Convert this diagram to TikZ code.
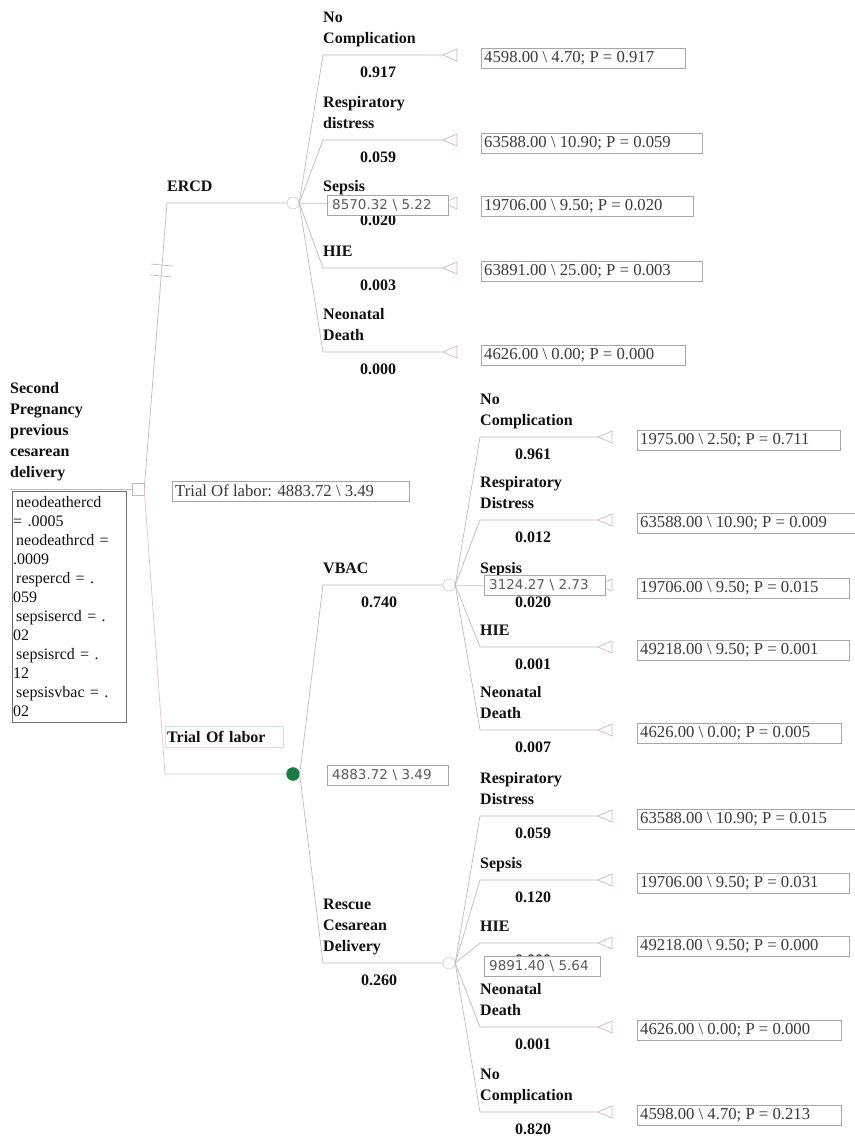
\documentclass[tikz,border=0pt]{standalone}
\usepackage{fontspec}
\setmainfont{Liberation Serif}
\newfontfamily\sansval{DejaVu Sans}
\usetikzlibrary{calc,shadows}
\definecolor{LineGray}{HTML}{BDBDBD}
\definecolor{PathPink}{HTML}{E5C3D5}
\definecolor{TermPink}{HTML}{D9B3C3}
\definecolor{BoxGray}{HTML}{A6A6A6}
\definecolor{VarEdge}{HTML}{707070}
\definecolor{ValText}{HTML}{3A3A3A}
\definecolor{SansText}{HTML}{5A5A5A}
\definecolor{LabelCyan}{HTML}{C9E3E8}
\definecolor{NodeGreen}{HTML}{1B7A47}
\definecolor{Ink}{HTML}{111111}
\newcommand\bs{\textbackslash}
\newcommand\treesize{\fontsize{16}{21}\selectfont}
\newcommand\valsize{\fontsize{16.7}{19}\selectfont}
\newcommand\varsize{\fontsize{16}{19}\selectfont}
\newcommand\sanssize{\sansval\fontsize{13.5}{16}\selectfont}

\begin{document}
\begin{tikzpicture}[x=1pt,y=-1pt,
  branch/.style={draw=LineGray, line width=0.7pt},
  optpath/.style={draw=PathPink, line width=0.7pt},
  term/.style={draw=TermPink, line width=0.7pt, line join=miter},
  chance/.style={circle, draw=LineGray, fill=white, minimum size=12pt, inner sep=0pt},
  dec/.style={rectangle, draw=LineGray, fill=white, minimum size=12pt, inner sep=0pt},
  lbl/.style={anchor=south west, align=left, inner sep=0pt, font=\treesize\bfseries, text=Ink, execute at end node=\strut},
  prob/.style={anchor=north, inner sep=0pt, font=\treesize\bfseries, text=Ink},
  payoff/.style={draw=BoxGray, fill=white, anchor=west, inner xsep=3pt, inner ysep=0pt, minimum height=20pt, font=\valsize, text=ValText, execute at end node={\hspace*{28pt}}},
  estbox/.style={draw=BoxGray, fill=white, anchor=west, text width=111pt, inner xsep=5pt, inner ysep=0pt, minimum height=20pt, font=\sanssize, text=SansText},
  varbox/.style={draw=VarEdge, fill=white, anchor=north west, text width=112pt, inner xsep=1pt, inner ysep=1pt, minimum height=231pt, align=left, font=\varsize, text=Ink, drop shadow={shadow xshift=1.2pt, shadow yshift=-1.2pt, fill=gray!80}}]
  \path[use as bounding box, fill=white] (0,0) rectangle (854,1139);

  % root decision
  \node[anchor=north west, align=left, inner sep=0pt, font=\treesize\bfseries, text=Ink] (ttl) at (10,382) {Second\\Pregnancy\\previous\\cesarean\\delivery};
  \node[dec] (root) at (138,489) {};
  \draw[branch] (ttl.west |- root) -- (root.west);
  \node[varbox] (vars) at (12,491) {\hspace*{3pt}neodeathercd\\= .0005\\\hspace*{3pt}neodeathrcd =\\.0009\\\hspace*{3pt}respercd = .\\059\\\hspace*{3pt}sepsisercd = .\\02\\\hspace*{3pt}sepsisrcd = .\\12\\\hspace*{3pt}sepsisvbac = .\\02};
  \node[payoff, execute at end node={\hspace*{4pt}}] (rootv) at (172,491) {Trial Of labor: 4883.72 \bs{} 3.49};

  % ERCD arm
  \coordinate (ercdk) at (167,203);
  \node[chance] (ercd) at (293,203) {};
  \draw[branch] (root.east) -- (ercdk) -- (ercd.west);
  \draw[branch] ($(root.east)!0.783!(ercdk)$) ++(-11,-1) -- ++(22,2);
  \draw[branch] ($(root.east)!0.745!(ercdk)$) ++(-11,-1) -- ++(22,2);
  \node[lbl] (ercdl) at (167,198) {ERCD};

  % trial of labor arm
  \coordinate (trialk) at (165,774);
  \node[chance, draw=NodeGreen, fill=NodeGreen, minimum size=13pt] (trial) at (293,774) {};
  \draw[optpath] (root.east) -- (trialk) -- (trial.west);
  \node[draw=LabelCyan, anchor=west, text width=114pt, inner xsep=2pt, minimum height=21pt, font=\treesize\bfseries, text=Ink] (triall) at (165,737) {Trial Of labor};

  \coordinate (vback) at (323,585);
  \node[chance] (vbac) at (449,585) {};
  \draw[branch] (trial.east) -- (vback) -- (vbac.west);
  \node[lbl] (vbacl) at (323,580) {VBAC};
  \node[prob] (vbacp) at (379,597) {0.740};

  \coordinate (resck) at (323,963);
  \node[chance] (resc) at (449,963) {};
  \draw[branch] (trial.east) -- (resck) -- (resc.west);
  \node[lbl] (rescl) at (323,958) {Rescue\\Cesarean\\Delivery};
  \node[prob] (rescp) at (379,975) {0.260};

  % outcomes after ERCD
  \foreach \k/\y/\lab/\p/\val in {
    1/55/{No\\Complication}/0.917/{4598.00 \bs{} 4.70; P = 0.917},
    2/140/{Respiratory\\distress}/0.059/{63588.00 \bs{} 10.90; P = 0.059},
    3/203/{Sepsis}/0.020/{19706.00 \bs{} 9.50; P = 0.020},
    4/268/{HIE}/0.003/{63891.00 \bs{} 25.00; P = 0.003},
    5/352/{Neonatal\\Death}/0.000/{4626.00 \bs{} 0.00; P = 0.000}}
  {
    \coordinate (ercd-k\k) at (323,\y);
    \coordinate (ercd-t\k) at (443,\y);
    \draw[branch] (ercd.east) -- (ercd-k\k) -- (ercd-t\k);
    \draw[term] (ercd-t\k) -- ++(14,-6) -- ++(0,12) -- cycle;
    \node[lbl] (ercd-n\k) at (323,\y-5) {\lab};
    \node[prob] (ercd-p\k) at (378,\y+12) {\p};
    \node[payoff] (ercd-v\k) at (481,\y+3) {\val};
  }

  % outcomes after VBAC and rescue cesarean
  \foreach \from/\k/\y/\lab/\p/\val in {
    vbac/1/437/{No\\Complication}/0.961/{1975.00 \bs{} 2.50; P = 0.711},
    vbac/2/520/{Respiratory\\Distress}/0.012/{63588.00 \bs{} 10.90; P = 0.009},
    vbac/3/585/{Sepsis}/0.020/{19706.00 \bs{} 9.50; P = 0.015},
    vbac/4/647/{HIE}/0.001/{49218.00 \bs{} 9.50; P = 0.001},
    vbac/5/730/{Neonatal\\Death}/0.007/{4626.00 \bs{} 0.00; P = 0.005},
    resc/1/816/{Respiratory\\Distress}/0.059/{63588.00 \bs{} 10.90; P = 0.015},
    resc/2/880/{Sepsis}/0.120/{19706.00 \bs{} 9.50; P = 0.031},
    resc/3/943/{HIE}/0.000/{49218.00 \bs{} 9.50; P = 0.000},
    resc/4/1027/{Neonatal\\Death}/0.001/{4626.00 \bs{} 0.00; P = 0.000},
    resc/5/1112/{No\\Complication}/0.820/{4598.00 \bs{} 4.70; P = 0.213}}
  {
    \coordinate (\from-k\k) at (480,\y);
    \coordinate (\from-t\k) at (598,\y);
    \draw[branch] (\from.east) -- (\from-k\k) -- (\from-t\k);
    \draw[term] (\from-t\k) -- ++(14,-6) -- ++(0,12) -- cycle;
    \node[lbl] (\from-n\k) at (480,\y-5) {\lab};
    \node[prob] (\from-p\k) at (533,\y+12) {\p};
    \node[payoff] (\from-v\k) at (637,\y+3) {\val};
  }

  % expected values
  \node[estbox] (ercdv) at (327,205) {8570.32 \bs{} 5.22};
  \node[estbox] (vbacv) at (484,585) {3124.27 \bs{} 2.73};
  \node[estbox, text width=106pt] (rescv) at (484,966) {9891.40 \bs{} 5.64};
  \node[estbox] (trialv) at (327,775) {4883.72 \bs{} 3.49};
\end{tikzpicture}
\end{document}
